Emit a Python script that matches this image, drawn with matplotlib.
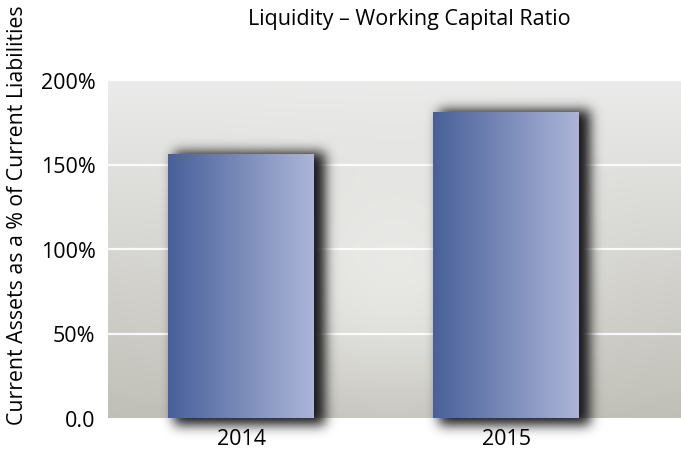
"""Liquidity - Working Capital Ratio"""
import numpy as np, matplotlib
matplotlib.use('Agg')
import matplotlib.pyplot as plt
import matplotlib.colors as mcolors
plt.rcParams.update({'font.family':['Open Sans','DejaVu Sans'],'font.size':15})

years=['2014','2015']
ratio=[156,181]              # current assets as % of current liabilities
yticks=[0,50,100,150,200]
ytick_labels=['0.0','50%','100%','150%','200%']

W,H=681,452
fig=plt.figure(figsize=(W/100,H/100),dpi=100,facecolor='white')
ax=fig.add_axes([108/W,(H-419)/H,(W-108)/W,(419-81)/H])
x=np.arange(len(years))
ax.set_xlim(-0.502,1.66); ax.set_ylim(0,200)

# background: vertical grey gradient + soft spotlight
ny,nx=200,300
yy,xx=np.mgrid[0:1:ny*1j,0:1:nx*1j]   # yy=0 top
top=np.array(mcolors.to_rgb('#ebebeb')); bot=np.array(mcolors.to_rgb('#c0bfb7'))
bg=top[None,None,:]*(1-yy[...,None])+bot[None,None,:]*yy[...,None]
light=np.array(mcolors.to_rgb('#ececea'))
r2=((xx-0.5)/0.36)**2+((yy-0.55)/0.5)**2
wgt=0.85*np.exp(-r2*1.8)
bg=bg*(1-wgt[...,None])+light[None,None,:]*wgt[...,None]
ax.imshow(bg,extent=(-0.502,1.66,0,200),aspect='auto',zorder=0,interpolation='bilinear')

for t in yticks[1:]:
    ax.axhline(t,color='white',lw=1.6,zorder=0.5,alpha=0.9)

bars=ax.bar(x,ratio,width=0.55,color='none',zorder=2)

# drop shadows, blurred in pixel space
fig.canvas.draw()
def gauss_blur(a,s):
    k=np.arange(-3*s,3*s+1); g=np.exp(-k**2/(2*s*s)); g/=g.sum()
    a=np.apply_along_axis(lambda r:np.convolve(r,g,mode='same'),1,a)
    return np.apply_along_axis(lambda c:np.convolve(c,g,mode='same'),0,a)
mask=np.zeros((H,W))
for b in bars:
    (x0,y0),(x1,y1)=ax.transData.transform([(b.get_x(),0),(b.get_x()+b.get_width(),b.get_height())])
    mask[int(H-y1)-2:int(H-y0)+7,int(x0)+6:int(x1)+12]=1
mask=gauss_blur(mask,6)
sh=np.zeros((H,W,4)); sh[...,:3]=0.13; sh[...,3]=np.clip(mask*1.05,0,1)
inv=ax.transData.inverted()
(dx0,dy0),(dx1,dy1)=inv.transform([(0,0),(W,H)])
ax.imshow(sh,extent=(dx0,dx1,dy0,dy1),aspect='auto',zorder=1,clip_on=False,interpolation='bilinear')
ax.set_xlim(-0.502,1.66); ax.set_ylim(0,200)

# horizontal gradient fill of bars
grad=np.linspace(0,1,256)[None,:]
cmap=mcolors.LinearSegmentedColormap.from_list('bar',['#48609a','#acb5d8'])
for b in bars:
    im=ax.imshow(grad,extent=(b.get_x(),b.get_x()+b.get_width(),0,b.get_height()),
                 aspect='auto',cmap=cmap,zorder=2)
    im.set_clip_path(b)

ax.set_xticks(x); ax.set_xticklabels(years)
ax.set_yticks(yticks); ax.set_yticklabels(ytick_labels)
ax.tick_params(length=0,labelsize=15.5)
ax.tick_params(axis='y',pad=9); ax.tick_params(axis='x',pad=7)
for s in ax.spines.values(): s.set_visible(False)
fig.text(18/W,1-215/H,'Current Assets as a % of Current Liabilities',rotation=90,
         ha='center',va='center',fontsize=15.3)
fig.text(409/W,1-20/H,'Liquidity – Working Capital Ratio',ha='center',va='center',fontsize=15.5)
fig.savefig('out.png',dpi=100,facecolor='white')
